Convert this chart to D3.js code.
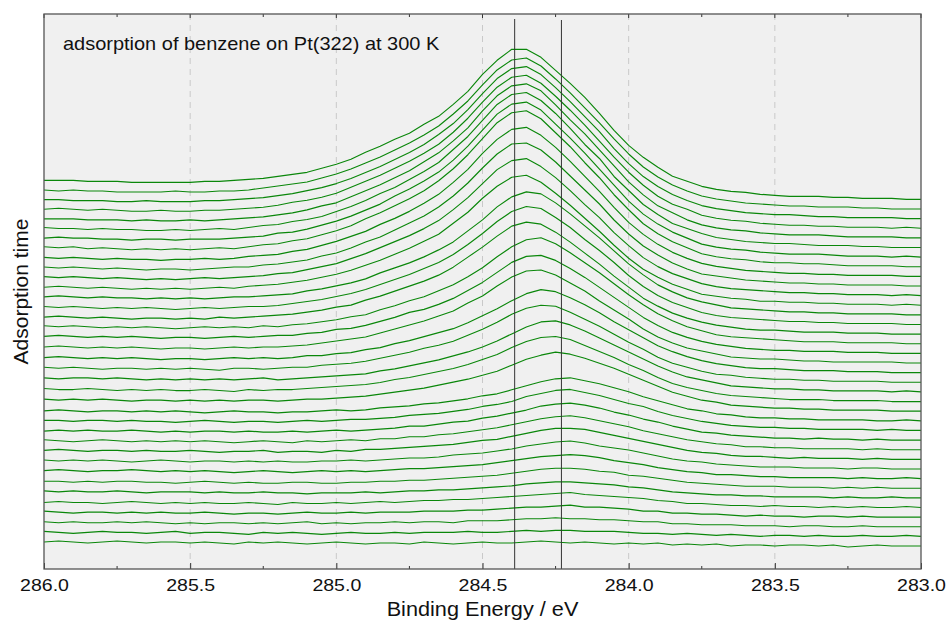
<!DOCTYPE html>
<html>
<head>
<meta charset="utf-8">
<script src="https://cdn.jsdelivr.net/npm/d3@7"></script>
<style>
    body { margin: 0; background: #fff; }
    svg text { font-family: "Liberation Sans", Arial, sans-serif; fill: #111; }
</style>
</head>
<body>
<div id="chart"></div>
<script>
// Binding energy grid (eV)
const energies = [286.00, 285.95, 285.90, 285.85, 285.80, 285.75, 285.70, 285.65, 285.60, 285.55,
    285.50, 285.45, 285.40, 285.35, 285.30, 285.25, 285.20, 285.15, 285.10, 285.05,
    285.00, 284.95, 284.90, 284.85, 284.80, 284.75, 284.70, 284.65, 284.60, 284.55,
    284.50, 284.45, 284.40, 284.35, 284.30, 284.25, 284.20, 284.15, 284.10, 284.05,
    284.00, 283.95, 283.90, 283.85, 283.80, 283.75, 283.70, 283.65, 283.60, 283.55,
    283.50, 283.45, 283.40, 283.35, 283.30, 283.25, 283.20, 283.15, 283.10, 283.05, 283.00];

// C 1s intensity of each scan (arb. units), first scan = bottom trace
const scan01 = [4,5,4,3,4,5,4,3,4,4, 3,4,3,2,4,3,4,3,2,3, 4,3,2,3,3,2,4,3,2,3, 4,3,3,4,5,4,3,4,3,2, 3,2,3,1,2,1,2,0,1,1, 0,1,1,0,1,-1,0,1,0,0,0];
const scan02 = [5,4,3,4,5,4,4,3,4,5, 3,4,4,3,2,4,3,4,3,2, 3,4,3,3,4,3,4,4,4,5, 4,4,5,6,5,6,6,5,5,5, 4,3,3,2,3,2,1,2,1,0, 1,1,0,1,0,0,1,0,0,1,0];
const scan03 = [5,4,5,4,4,5,4,5,4,3, 4,3,4,4,3,4,3,4,5,3, 4,3,4,4,5,4,5,5,4,6, 6,6,7,8,8,9,8,8,7,7, 6,5,5,3,3,2,2,2,1,1, 1,0,1,1,0,0,1,0,0,0,0];
const scan04 = [6,5,4,5,5,4,5,4,5,4, 4,5,4,3,4,4,3,4,5,4, 4,5,4,5,5,5,6,6,6,7, 7,8,9,10,10,11,12,10,10,9, 8,6,6,4,4,3,3,2,1,2, 1,1,0,1,1,0,1,0,0,0,0];
const scan05 = [5,6,5,5,4,5,6,5,4,5, 4,5,4,4,5,4,3,5,4,4, 5,4,5,6,5,6,7,7,8,8, 9,10,11,12,13,14,15,13,12,11, 10,9,7,6,4,4,3,2,2,1, 2,1,1,0,1,0,1,0,0,1,0];
const scan06 = [7,6,7,6,6,7,6,5,6,6, 6,5,6,5,5,6,5,5,4,5, 5,5,6,5,6,7,7,8,8,9, 10,11,12,14,15,16,16,15,14,13, 11,10,8,6,5,4,3,3,2,2, 1,1,1,1,0,1,0,0,1,0,0];
const scan07 = [7,7,6,7,6,7,7,6,6,5, 6,7,6,5,6,5,5,6,6,5, 5,6,6,7,7,8,8,9,10,11, 12,13,15,17,19,20,20,19,17,16, 13,12,10,8,6,5,4,3,2,2, 2,1,1,1,0,1,0,1,0,0,0];
const scan08 = [8,9,8,7,8,8,9,8,7,8, 7,8,7,6,7,8,7,6,7,8, 7,8,7,8,9,10,10,11,12,13, 14,16,18,20,22,23,24,23,21,18, 16,14,11,9,7,6,4,4,3,2, 2,1,1,1,1,0,1,0,0,1,0];
const scan09 = [9,8,9,8,9,8,7,8,9,8, 7,8,8,7,8,7,8,7,7,8, 8,9,8,9,10,11,11,12,14,15, 16,18,20,23,25,27,28,26,23,21, 19,16,13,10,8,7,5,4,3,2, 2,2,1,1,1,0,1,1,0,0,0];
const scan10 = [9,10,9,8,9,9,8,9,8,8, 9,8,7,8,8,9,7,8,8,7, 9,8,10,10,11,12,13,14,15,17, 19,20,23,26,29,31,31,30,27,24, 21,18,15,12,9,7,6,4,3,3, 2,1,2,1,1,1,0,1,0,0,0];
const scan11 = [10,9,8,9,10,9,8,9,8,9, 8,9,8,7,8,9,8,7,9,8, 9,10,9,11,11,13,13,15,16,18, 20,22,25,28,31,33,34,32,29,26, 23,19,16,13,10,8,6,5,3,3, 2,2,1,1,1,1,0,1,0,0,0];
const scan12 = [9,10,9,10,9,9,10,9,8,9, 8,9,9,8,9,8,8,9,8,9, 10,9,10,11,12,14,14,16,18,19, 22,24,27,30,34,36,37,35,32,28, 25,21,18,14,11,8,7,5,4,3, 2,2,1,2,1,1,0,1,0,0,0];
const scan13 = [10,10,9,10,10,9,10,9,9,8, 9,10,9,8,9,9,8,9,10,9, 10,11,11,12,13,15,16,17,19,21, 24,26,29,34,37,40,41,38,35,31, 27,24,19,15,12,9,7,5,4,3, 3,2,2,1,1,1,1,0,1,0,0];
const scan14 = [10,11,10,9,10,10,9,10,9,10, 9,8,9,10,9,9,8,9,9,10, 11,10,11,13,14,15,17,18,20,22, 25,27,31,35,39,42,43,40,37,33, 29,24,20,16,12,10,7,6,4,3, 3,2,2,1,1,1,1,0,0,1,0];
const scan15 = [12,11,12,11,12,11,10,11,11,10, 11,10,11,10,11,11,10,11,12,12, 13,14,15,17,19,21,23,26,29,32, 36,40,46,52,56,59,57,53,48,43, 37,31,25,19,15,11,9,6,5,4, 3,3,2,2,1,1,1,1,0,0,0];
const scan16 = [13,12,12,13,12,11,12,11,12,11, 11,12,11,10,12,11,12,12,13,14, 15,16,17,19,22,24,27,30,33,37, 42,47,54,60,64,65,62,56,50,44, 37,31,24,18,14,11,8,6,5,4, 3,2,2,2,1,1,1,1,0,0,0];
const scan17 = [14,13,14,14,13,14,13,12,13,12, 13,12,13,12,13,14,12,13,14,15, 16,17,18,21,23,26,29,32,36,40, 45,51,58,65,70,71,67,61,54,47, 40,33,26,20,15,12,9,6,5,4, 3,3,2,2,1,1,1,1,0,1,0];
const scan18 = [15,14,15,14,13,14,14,13,14,13, 14,13,12,14,14,13,14,15,15,17, 18,19,21,24,27,30,34,37,41,47, 53,60,68,74,77,76,70,63,56,48, 40,33,25,19,15,11,8,7,5,4, 3,3,2,2,1,1,1,1,0,0,0];
const scan19 = [15,16,15,14,15,14,15,14,13,14, 14,13,14,15,14,15,14,15,17,17, 19,20,23,25,29,32,36,40,44,50, 57,64,72,79,83,81,75,68,60,51, 43,35,27,21,16,12,9,7,5,4, 4,3,2,2,2,1,1,1,0,0,0];
const scan20 = [16,17,16,15,16,15,16,15,14,15, 15,14,15,16,15,16,16,17,18,20, 22,24,26,30,34,38,42,47,52,60, 67,77,86,92,93,88,80,72,62,53, 44,34,26,20,15,12,9,6,5,4, 4,3,2,2,1,1,1,1,1,0,0];
const scan21 = [17,18,17,16,17,16,17,16,15,16, 16,15,16,17,16,17,18,18,20,21, 24,25,28,32,36,41,44,49,55,63, 71,81,91,97,98,93,85,76,66,56, 46,36,28,21,16,12,9,7,5,4, 3,3,2,2,2,1,1,1,0,0,0];
const scan22 = [18,17,18,17,16,17,16,17,16,15, 16,17,16,17,16,18,17,19,20,22, 24,27,29,34,38,43,47,53,59,67, 76,87,97,104,106,100,91,81,71,60, 49,39,30,23,17,13,9,7,6,5, 4,3,2,2,2,1,1,1,1,0,0];
const scan23 = [17,18,17,16,17,16,15,16,16,15, 16,15,17,16,17,18,19,20,22,24, 27,29,34,38,43,48,53,59,67,77, 87,98,108,112,110,102,92,81,70,58, 47,36,28,21,16,12,9,7,5,4, 4,3,2,2,2,1,1,1,0,0,0];
const scan24 = [18,17,18,17,16,17,16,17,16,15, 16,17,16,17,18,18,19,21,23,25, 28,31,35,40,45,50,56,62,70,80, 91,103,113,118,116,107,97,85,74,62, 49,38,29,22,17,12,9,7,6,5, 4,3,3,2,2,1,1,1,1,0,0];
const scan25 = [18,19,18,17,18,17,17,16,17,16, 17,16,17,18,18,19,20,21,24,26, 29,32,36,42,47,52,58,65,73,84, 95,108,118,123,121,112,101,89,77,64, 51,40,30,23,17,13,10,7,6,5, 4,3,3,2,2,1,1,1,1,0,0];
const scan26 = [18,19,18,17,18,17,16,17,16,17, 16,17,18,17,19,20,21,23,25,28, 31,35,40,45,51,57,64,71,82,93, 107,119,128,130,123,112,100,87,74,60, 47,36,28,21,16,11,9,7,6,4, 4,3,3,2,2,1,1,1,0,1,0];
const scan27 = [19,18,19,18,17,18,17,16,17,16, 17,18,17,18,19,20,22,23,26,29, 32,37,42,48,54,60,67,75,86,98, 112,126,135,137,129,118,105,91,78,63, 50,38,29,22,17,12,9,7,6,5, 4,3,3,2,2,1,1,1,0,1,0];
const scan28 = [19,18,19,18,17,18,17,16,17,17, 16,17,18,19,19,21,22,24,26,30, 33,38,44,49,56,63,70,79,90,103, 118,132,142,143,136,124,110,96,82,66, 52,40,31,23,17,12,10,8,6,5, 4,3,3,2,2,1,1,1,1,0,0];
const scan29 = [19,18,19,18,17,18,17,17,16,17, 17,18,17,18,20,21,22,25,27,31, 35,40,45,52,58,65,73,82,94,107, 123,137,147,149,141,129,115,100,85,69, 54,42,32,24,18,13,10,8,6,5, 4,3,3,2,2,1,1,1,1,0,0];
const scan30 = [20,19,20,18,19,18,17,18,17,18, 17,18,19,18,20,22,23,26,28,32, 36,41,48,54,61,68,76,86,98,112, 128,144,154,156,148,134,120,104,89,72, 57,43,33,25,19,13,10,8,7,5, 4,4,3,3,2,1,1,1,1,0,0];
const scan31 = [19,20,19,19,18,18,17,18,18,17, 18,18,18,19,20,21,24,25,28,32, 36,41,47,53,61,68,76,85,97,111, 127,143,153,155,147,133,119,104,88,72, 56,43,33,25,19,13,10,8,7,5, 4,3,3,3,2,1,1,1,0,1,0];
const scan32 = [20,19,19,18,19,18,18,17,17,18, 17,18,19,18,20,22,23,26,28,31, 36,41,47,54,60,68,76,85,98,111, 127,143,153,155,147,134,119,103,89,71, 57,43,33,24,19,14,10,8,6,5, 4,4,3,2,2,2,1,1,0,0,0];
const scan33 = [19,19,19,18,18,18,17,18,17,17, 18,17,18,19,20,21,23,25,28,32, 35,41,47,53,60,67,76,85,97,110, 127,142,152,154,147,133,118,104,88,72, 56,43,32,25,18,13,10,8,7,5, 4,3,3,3,2,1,1,1,1,0,0];
const scan34 = [19,20,19,18,19,18,17,17,18,17, 17,18,18,19,20,21,23,26,28,31, 35,41,47,53,60,67,75,84,96,110, 126,141,151,153,145,132,118,103,87,71, 56,43,32,24,19,13,10,8,7,5, 4,3,3,2,2,1,1,1,0,1,0];
const scan35 = [19,19,18,18,18,17,17,18,17,17, 17,18,18,19,20,21,23,25,28,31, 35,40,46,52,59,66,74,84,95,109, 125,140,150,152,144,131,117,102,87,70, 55,42,32,24,18,13,10,8,6,5, 4,4,3,2,2,1,1,1,1,0,0];
const scan36 = [19,18,19,18,18,17,17,17,17,18, 17,17,18,18,19,21,23,25,27,31, 35,40,46,52,59,66,74,83,95,108, 124,139,149,151,143,130,116,101,86,70, 55,42,32,24,18,13,10,8,6,5, 4,3,3,2,2,2,1,1,0,0,0];
const scan37 = [19,19,19,18,18,18,17,17,17,17, 17,18,18,19,20,21,23,25,27,31, 35,40,47,53,60,66,75,83,95,108, 125,139,150,150,142,129,116,102,86,69, 54,42,32,23,18,13,10,8,7,5, 4,3,3,3,2,2,1,1,1,0,0];

const spectra = [scan01, scan02, scan03, scan04, scan05, scan06, scan07, scan08, scan09, scan10,
    scan11, scan12, scan13, scan14, scan15, scan16, scan17, scan18, scan19, scan20,
    scan21, scan22, scan23, scan24, scan25, scan26, scan27, scan28, scan29, scan30,
    scan31, scan32, scan33, scan34, scan35, scan36, scan37];

// Axis ticks and the two component positions
const xMajorTicks = [286.0, 285.5, 285.0, 284.5, 284.0, 283.5, 283.0];
const xMinorTicks = [285.75, 285.25, 284.75, 284.25, 283.75, 283.25];
const markerEnergies = [284.39, 284.23];
const markerTops = [550, 549];

// Layout
const width = 951, height = 621;
const margin = { top: 14, right: 30, bottom: 52, left: 44 };
const innerW = width - margin.left - margin.right;
const innerH = height - margin.top - margin.bottom;
const baseOffset = 23;     // waterfall offset of first scan
const offsetStep = 9.63;   // waterfall spacing between scans

const svg = d3.select('#chart')
    .append('svg')
    .attr('width', width)
    .attr('height', height);

const g = svg.append('g')
    .attr('transform', `translate(${margin.left},${margin.top})`);

const x = d3.scaleLinear().domain([286, 283]).range([0, innerW]);
const y = d3.scaleLinear().domain([0, innerH]).range([innerH, 0]);

// Plot background
g.append('rect')
    .attr('width', innerW)
    .attr('height', innerH)
    .style('fill', '#f0f0f0');

// Dashed grid at the major ticks
g.selectAll('line.grid')
    .data(xMajorTicks.slice(1, -1))
    .join('line')
    .attr('class', 'grid')
    .attr('x1', d => x(d)).attr('x2', d => x(d))
    .attr('y1', 0).attr('y2', innerH)
    .style('stroke', '#c9c9c9')
    .style('stroke-width', 1)
    .style('stroke-dasharray', '6,5');

// Spectra
const line = d3.line()
    .x((d, k) => x(energies[k]))
    .y(d => y(d));

g.selectAll('path.scan')
    .data(spectra)
    .join('path')
    .attr('class', 'scan')
    .attr('d', (scan, i) => line(scan.map(v => v + baseOffset + i * offsetStep)))
    .style('fill', 'none')
    .style('stroke', '#0a870a')
    .style('stroke-width', 1.15)
    .style('stroke-linejoin', 'round');

// Vertical marker lines
g.selectAll('line.marker')
    .data(markerEnergies)
    .join('line')
    .attr('class', 'marker')
    .attr('x1', d => x(d)).attr('x2', d => x(d))
    .attr('y1', (d, i) => y(markerTops[i]))
    .attr('y2', innerH)
    .style('stroke', '#333')
    .style('stroke-width', 1);

// Bottom axis with inward ticks
const xAxis = g.append('g')
    .attr('transform', `translate(0,${innerH})`)
    .call(d3.axisBottom(x)
        .tickValues(xMajorTicks)
        .tickSizeInner(-6)
        .tickSizeOuter(0)
        .tickPadding(10)
        .tickFormat(d3.format('.1f')));

xAxis.select('.domain').remove();
xAxis.selectAll('line').style('stroke', '#333');
xAxis.selectAll('text')
    .style('font-size', '17px')
    .attr('transform', 'scale(1.15,1)');

// Minor ticks, bottom and top, plus major ticks on top
g.selectAll('line.minor-bottom')
    .data(xMinorTicks)
    .join('line')
    .attr('x1', d => x(d)).attr('x2', d => x(d))
    .attr('y1', innerH).attr('y2', innerH - 3)
    .style('stroke', '#333');

g.selectAll('line.minor-top')
    .data(xMinorTicks)
    .join('line')
    .attr('x1', d => x(d)).attr('x2', d => x(d))
    .attr('y1', 0).attr('y2', 3)
    .style('stroke', '#333');

g.selectAll('line.major-top')
    .data(xMajorTicks)
    .join('line')
    .attr('x1', d => x(d)).attr('x2', d => x(d))
    .attr('y1', 0).attr('y2', 4)
    .style('stroke', '#333');

// Frame
g.append('rect')
    .attr('width', innerW)
    .attr('height', innerH)
    .style('fill', 'none')
    .style('stroke', '#555')
    .style('stroke-width', 1.3);

// Texts
g.append('text')
    .attr('transform', 'translate(19,35.5) scale(1.11,1)')
    .style('font-size', '18px')
    .text('adsorption of benzene on Pt(322) at 300 K');

svg.append('text')
    .attr('transform', `translate(${margin.left + innerW / 2},616) scale(1.085,1)`)
    .attr('text-anchor', 'middle')
    .style('font-size', '20px')
    .text('Binding Energy / eV');

svg.append('text')
    .attr('transform', `translate(28,${margin.top + innerH / 2}) rotate(-90)`)
    .attr('text-anchor', 'middle')
    .style('font-size', '21px')
    .text('Adsorption time');
</script>
</body>
</html>
